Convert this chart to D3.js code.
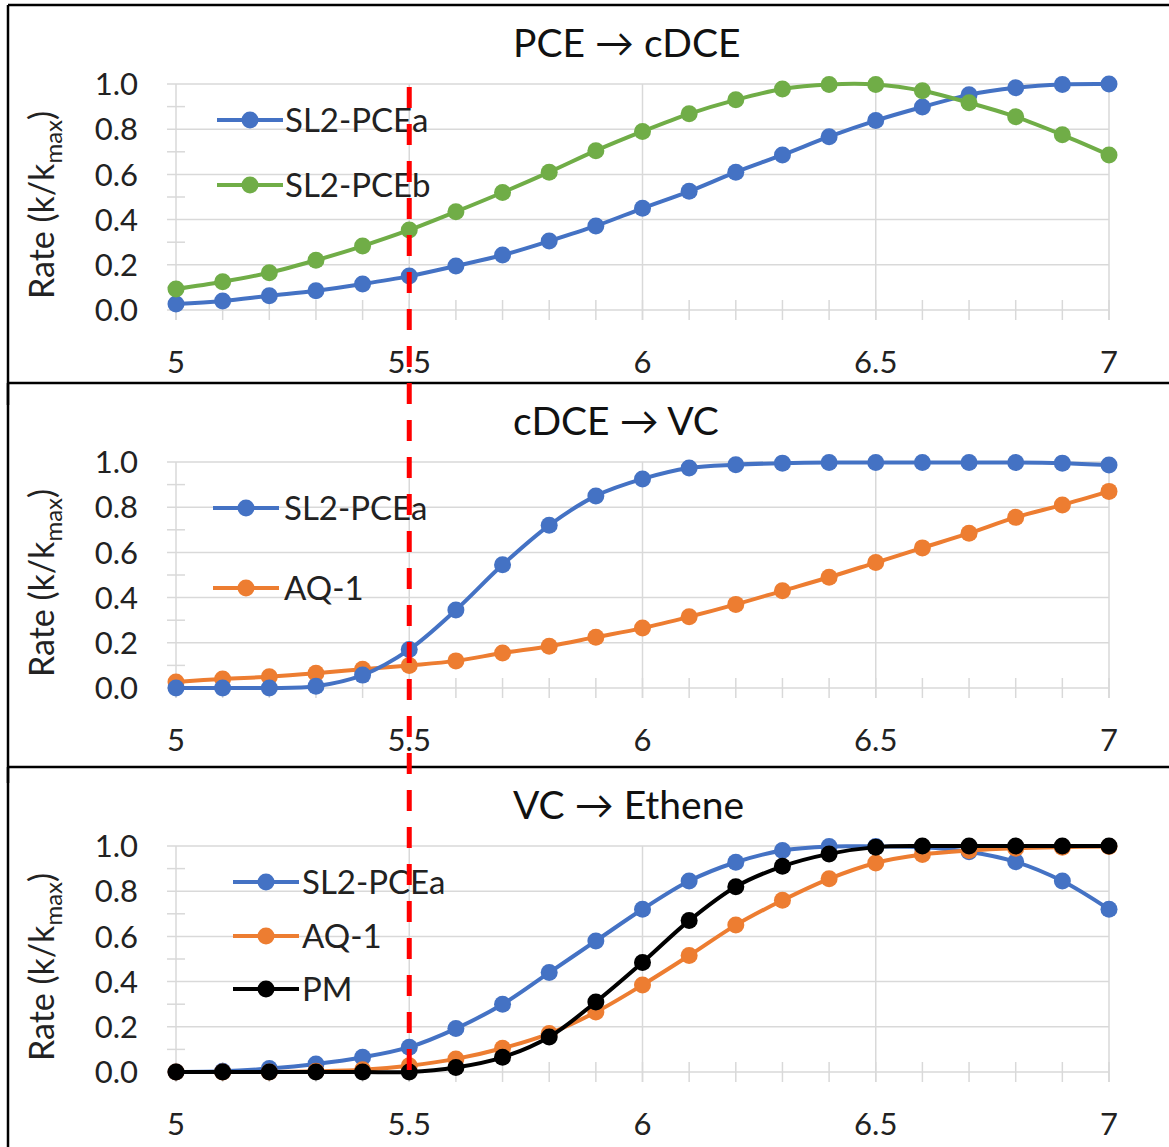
<!DOCTYPE html>
<html>
<head>
<meta charset="utf-8">
<script src="https://cdn.jsdelivr.net/npm/d3@7"></script>
<style>
  body { margin: 0; background: #fff; }
  svg { display: block; font-family: Lato, "Open Sans", sans-serif; }
</style>
</head>
<body>
<div id="chart"></div>
<script>
// pH values (x axis)
const phValues = [5.0, 5.1, 5.2, 5.3, 5.4, 5.5, 5.6, 5.7, 5.8, 5.9, 6.0, 6.1, 6.2, 6.3, 6.4, 6.5, 6.6, 6.7, 6.8, 6.9, 7.0];
const xTicks = [5, 5.5, 6, 6.5, 7];
const yTicks = [0, 0.2, 0.4, 0.6, 0.8, 1.0];
const minorYTicks = [0.1, 0.3, 0.5, 0.7, 0.9];
const markerPh = 5.5;

const panelTitles = ['PCE \u2192 cDCE', 'cDCE \u2192 VC', 'VC \u2192 Ethene'];

// PCE -> cDCE
const pceSl2a = [0.027, 0.04, 0.063, 0.085, 0.115, 0.15, 0.195, 0.243, 0.305, 0.372, 0.45, 0.525, 0.61, 0.686, 0.767, 0.838, 0.898, 0.952, 0.983, 0.998, 1.0];
const pceSl2b = [0.093, 0.125, 0.165, 0.22, 0.283, 0.354, 0.435, 0.52, 0.61, 0.705, 0.79, 0.868, 0.93, 0.978, 0.998, 0.998, 0.97, 0.917, 0.855, 0.775, 0.686];

// cDCE -> VC
const cdceSl2a = [0.0, 0.0, 0.0, 0.008, 0.057, 0.17, 0.345, 0.545, 0.72, 0.85, 0.925, 0.973, 0.988, 0.995, 0.998, 0.998, 0.998, 0.998, 0.998, 0.995, 0.987];
const cdceAq1 = [0.027, 0.04, 0.05, 0.065, 0.083, 0.1, 0.12, 0.155, 0.185, 0.225, 0.265, 0.315, 0.37, 0.43, 0.49, 0.555, 0.62, 0.685, 0.755, 0.81, 0.87];

// VC -> Ethene
const vcSl2a = [0.0, 0.003, 0.015, 0.035, 0.065, 0.11, 0.192, 0.3, 0.44, 0.58, 0.72, 0.845, 0.928, 0.98, 0.998, 0.998, 0.995, 0.975, 0.93, 0.845, 0.72];
const vcAq1 = [0.0, 0.0, 0.0, 0.003, 0.01, 0.028, 0.058, 0.105, 0.17, 0.265, 0.385, 0.515, 0.65, 0.76, 0.855, 0.925, 0.962, 0.98, 0.99, 0.995, 0.998];
const vcPm = [0.0, 0.0, 0.0, 0.0, 0.0, 0.0, 0.02, 0.065, 0.155, 0.31, 0.485, 0.67, 0.82, 0.91, 0.965, 0.995, 1.0, 1.0, 1.0, 1.0, 1.0];

const colors = { sl2a: '#4472C4', sl2b: '#70AD47', aq1: '#ED7D31', pm: '#000000' };

const panels = [
    {
        title: panelTitles[0], top: 5,
        legend: { x0: 217, x1: 283, tx: 285, rows: [115, 180] },
        series: [
            { name: 'SL2-PCEa', values: pceSl2a, color: colors.sl2a },
            { name: 'SL2-PCEb', values: pceSl2b, color: colors.sl2b }
        ]
    },
    {
        title: panelTitles[1], top: 383,
        legend: { x0: 213, x1: 279, tx: 284, rows: [125, 205] },
        series: [
            { name: 'AQ-1', values: cdceAq1, color: colors.aq1, legendRow: 1 },
            { name: 'SL2-PCEa', values: cdceSl2a, color: colors.sl2a, legendRow: 0 }
        ]
    },
    {
        title: panelTitles[2], top: 767,
        legend: { x0: 233, x1: 299, tx: 302, rows: [115, 169, 222] },
        series: [
            { name: 'SL2-PCEa', values: vcSl2a, color: colors.sl2a, legendRow: 0 },
            { name: 'AQ-1', values: vcAq1, color: colors.aq1, legendRow: 1 },
            { name: 'PM', values: vcPm, color: colors.pm, legendRow: 2 }
        ]
    }
];

const width = 1169, height = 1147;
const svg = d3.select('#chart').append('svg')
    .attr('width', width)
    .attr('height', height);

const x = d3.scaleLinear().domain([5, 7]).range([176, 1109]);
const gridColor = '#d9d9d9';

panels.forEach((p, pi) => {
    const g = svg.append('g').attr('transform', `translate(0, ${p.top})`);
    const y = d3.scaleLinear().domain([0, 1]).range([305, 79]);

    // frame
    g.append('line').attr('x1', 8).attr('x2', width).attr('y1', 0).attr('y2', 0)
        .attr('stroke', '#000').attr('stroke-width', 2.5);
    g.append('line').attr('x1', 8).attr('x2', 8).attr('y1', 0).attr('y2', 400)
        .attr('stroke', '#000').attr('stroke-width', 2.5);

    // horizontal gridlines
    g.append('g').selectAll('line').data(yTicks).join('line')
        .attr('x1', 167).attr('x2', x(7))
        .attr('y1', d => y(d)).attr('y2', d => y(d))
        .attr('stroke', gridColor).attr('stroke-width', 1.5);
    // minor y ticks
    g.append('g').selectAll('line').data(minorYTicks).join('line')
        .attr('x1', 167).attr('x2', 185)
        .attr('y1', d => y(d)).attr('y2', d => y(d))
        .attr('stroke', gridColor).attr('stroke-width', 1.5);
    // vertical gridlines
    g.append('g').selectAll('line').data(xTicks).join('line')
        .attr('x1', d => x(d)).attr('x2', d => x(d))
        .attr('y1', y(1)).attr('y2', y(0) + 10)
        .attr('stroke', gridColor).attr('stroke-width', 1.5);
    // minor x ticks
    g.append('g').selectAll('line').data(phValues).join('line')
        .attr('x1', d => x(d)).attr('x2', d => x(d))
        .attr('y1', y(0) - 10).attr('y2', y(0) + 10)
        .attr('stroke', gridColor).attr('stroke-width', 1.5);

    // y tick labels
    g.append('g').selectAll('text').data(yTicks).join('text')
        .attr('x', 138).attr('y', d => y(d))
        .attr('dy', '0.36em')
        .attr('text-anchor', 'end')
        .style('font-size', '31px')
        .style('fill', '#222')
        .text(d => d.toFixed(1));

    // x tick labels
    g.append('g').selectAll('text').data(xTicks).join('text')
        .attr('x', d => x(d)).attr('y', 357)
        .attr('dy', '0.36em')
        .attr('text-anchor', 'middle')
        .style('font-size', '31px')
        .style('fill', '#222')
        .text(d => d);

    // y axis title
    const yl = g.append('text')
        .attr('transform', `translate(54, 200) rotate(-90)`)
        .attr('text-anchor', 'middle')
        .style('font-size', '34px')
        .style('fill', '#222');
    yl.append('tspan').text('Rate (k/k');
    yl.append('tspan').attr('dy', 8).style('font-size', '24px').text('max');
    yl.append('tspan').attr('dy', -8).text(')');

    // panel title
    g.append('text')
        .attr('x', 513).attr('y', 38)
        .attr('dy', '0.36em')
        .style('font-size', '39px')
        .style('fill', '#111')
        .text(p.title);

    // series
    const line = d3.line()
        .x((d, i) => x(phValues[i]))
        .y(d => y(d))
        .curve(d3.curveCatmullRom.alpha(0.5));

    p.series.forEach(s => {
        g.append('path')
            .datum(s.values)
            .attr('d', line)
            .attr('fill', 'none')
            .attr('stroke', s.color)
            .attr('stroke-width', 4);
        g.append('g').selectAll('circle').data(s.values).join('circle')
            .attr('cx', (d, i) => x(phValues[i]))
            .attr('cy', d => y(d))
            .attr('r', 8.5)
            .attr('fill', s.color);
    });

    // legend
    p.series.forEach((s, si) => {
        const row = s.legendRow !== undefined ? s.legendRow : si;
        const ly = p.legend.rows[row];
        const lg = g.append('g');
        lg.append('line')
            .attr('x1', p.legend.x0).attr('x2', p.legend.x1)
            .attr('y1', ly).attr('y2', ly)
            .attr('stroke', s.color).attr('stroke-width', 4);
        lg.append('circle')
            .attr('cx', (p.legend.x0 + p.legend.x1) / 2).attr('cy', ly)
            .attr('r', 8.5).attr('fill', s.color);
        lg.append('text')
            .attr('x', p.legend.tx).attr('y', ly)
            .attr('dy', '0.36em')
            .style('font-size', '33px')
            .style('fill', '#222')
            .text(s.name);
    });
});

// red dashed reference line at pH 5.5 through all panels
svg.append('line')
    .attr('x1', x(markerPh)).attr('x2', x(markerPh))
    .attr('y1', 87).attr('y2', 1078)
    .attr('stroke', '#ff0000')
    .attr('stroke-width', 5)
    .attr('stroke-dasharray', '21 16');
</script>
</body>
</html>
